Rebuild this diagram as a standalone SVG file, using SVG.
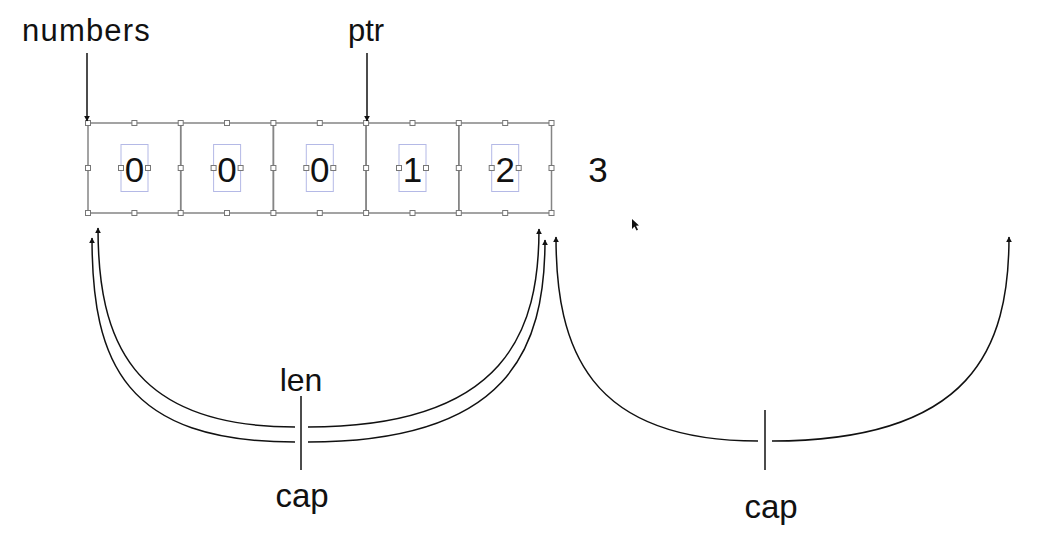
<svg xmlns="http://www.w3.org/2000/svg" width="1051" height="545" viewBox="0 0 1051 545">
<style>
.lbl{font-family:"Liberation Sans",Arial,sans-serif;fill:#111;}
.box{fill:none;stroke:#858585;stroke-width:1.5;}
.inner{fill:none;stroke:#b4b9e6;stroke-width:1;}
.h{fill:#fff;stroke:#777;stroke-width:1;}
.con{fill:none;stroke:#111;stroke-width:1.5;}
.digit{font-size:35px;text-anchor:middle;}
</style>
<defs>
<marker id="ah" viewBox="0 0 10 10" refX="9" refY="5" markerWidth="6" markerHeight="6" markerUnits="userSpaceOnUse" orient="auto">
<path d="M0,0 L10,5 L0,10 z" fill="#111"/>
</marker>
<g id="handles">
<rect class="h" x="-2.5" y="-2.5" width="5" height="5"/>
</g>
</defs>
<rect width="1051" height="545" fill="#fff"/>

<g id="label-numbers"><text class="lbl" x="22" y="41" font-size="31" letter-spacing="1.2">numbers</text></g>
<g id="label-ptr"><text class="lbl" x="348" y="41" font-size="31">ptr</text></g>

<g id="cell0">
<rect class="box" x="88" y="123" width="92.7" height="90"/>
<rect class="inner" x="121" y="144.5" width="27" height="47"/>
<text class="lbl digit" x="134.4" y="182">0</text>
</g>
<g id="cell1">
<rect class="box" x="180.7" y="123" width="92.7" height="90"/>
<rect class="inner" x="213.6" y="144.5" width="27" height="47"/>
<text class="lbl digit" x="227" y="182">0</text>
</g>
<g id="cell2">
<rect class="box" x="273.4" y="123" width="92.7" height="90"/>
<rect class="inner" x="306.3" y="144.5" width="27" height="47"/>
<text class="lbl digit" x="319.8" y="182">0</text>
</g>
<g id="cell3">
<rect class="box" x="366.1" y="123" width="92.7" height="90"/>
<rect class="inner" x="399" y="144.5" width="27" height="47"/>
<text class="lbl digit" x="412.5" y="182">1</text>
</g>
<g id="cell4">
<rect class="box" x="458.8" y="123" width="92.7" height="90"/>
<rect class="inner" x="491.7" y="144.5" width="27" height="47"/>
<text class="lbl digit" x="505.2" y="182">2</text>
</g>
<g id="label-3"><text class="lbl digit" x="598" y="182">3</text></g>

<g id="selection-handles">
<use href="#handles" x="88" y="123"/><use href="#handles" x="134.4" y="123"/><use href="#handles" x="180.7" y="123"/><use href="#handles" x="227" y="123"/><use href="#handles" x="273.4" y="123"/><use href="#handles" x="319.8" y="123"/><use href="#handles" x="366.1" y="123"/><use href="#handles" x="412.5" y="123"/><use href="#handles" x="458.8" y="123"/><use href="#handles" x="505.2" y="123"/><use href="#handles" x="551.5" y="123"/>
<use href="#handles" x="88" y="213"/><use href="#handles" x="134.4" y="213"/><use href="#handles" x="180.7" y="213"/><use href="#handles" x="227" y="213"/><use href="#handles" x="273.4" y="213"/><use href="#handles" x="319.8" y="213"/><use href="#handles" x="366.1" y="213"/><use href="#handles" x="412.5" y="213"/><use href="#handles" x="458.8" y="213"/><use href="#handles" x="505.2" y="213"/><use href="#handles" x="551.5" y="213"/>
<use href="#handles" x="88" y="168"/><use href="#handles" x="180.7" y="168"/><use href="#handles" x="273.4" y="168"/><use href="#handles" x="366.1" y="168"/><use href="#handles" x="458.8" y="168"/><use href="#handles" x="551.5" y="168"/>
<use href="#handles" x="121" y="168"/><use href="#handles" x="148" y="168"/>
<use href="#handles" x="213.6" y="168"/><use href="#handles" x="240.6" y="168"/>
<use href="#handles" x="306.3" y="168"/><use href="#handles" x="333.3" y="168"/>
<use href="#handles" x="399" y="168"/><use href="#handles" x="426" y="168"/>
<use href="#handles" x="491.7" y="168"/><use href="#handles" x="518.7" y="168"/>
</g>

<g id="connectors">
<line class="con" x1="87" y1="53" x2="87" y2="121" marker-end="url(#ah)"/>
<line class="con" x1="367" y1="53" x2="367" y2="121" marker-end="url(#ah)"/>
<!-- len pair (inner) -->
<path class="con" d="M295,427 C130,427 98,339 98,228" marker-end="url(#ah)"/>
<path class="con" d="M308,427 C508,427 539,329 539,229" marker-end="url(#ah)"/>
<!-- cap pair (outer) -->
<path class="con" d="M295,442 C125,442 92,363 92,238" marker-end="url(#ah)"/>
<path class="con" d="M308,442 C508,442 545,350 545,240" marker-end="url(#ah)"/>
<line class="con" x1="301" y1="396" x2="301" y2="470"/>
<!-- right cap -->
<path class="con" d="M758,441 C588,441 556,348 556,237" marker-end="url(#ah)"/>
<path class="con" d="M772,441 C972,441 1009,348 1009,237" marker-end="url(#ah)"/>
<line class="con" x1="765" y1="410" x2="765" y2="470"/>
</g>

<g id="label-len"><text class="lbl" x="301" y="391" font-size="32" text-anchor="middle">len</text></g>
<g id="label-cap-left"><text class="lbl" x="302" y="507" font-size="33" text-anchor="middle">cap</text></g>
<g id="label-cap-right"><text class="lbl" x="771" y="518" font-size="33" text-anchor="middle">cap</text></g>

<g id="cursor"><path d="M632,219 L632,229 L634.5,226.5 L636.5,230.5 L638,229.8 L636,225.8 L639,225.5 z" fill="#111"/></g>
</svg>
